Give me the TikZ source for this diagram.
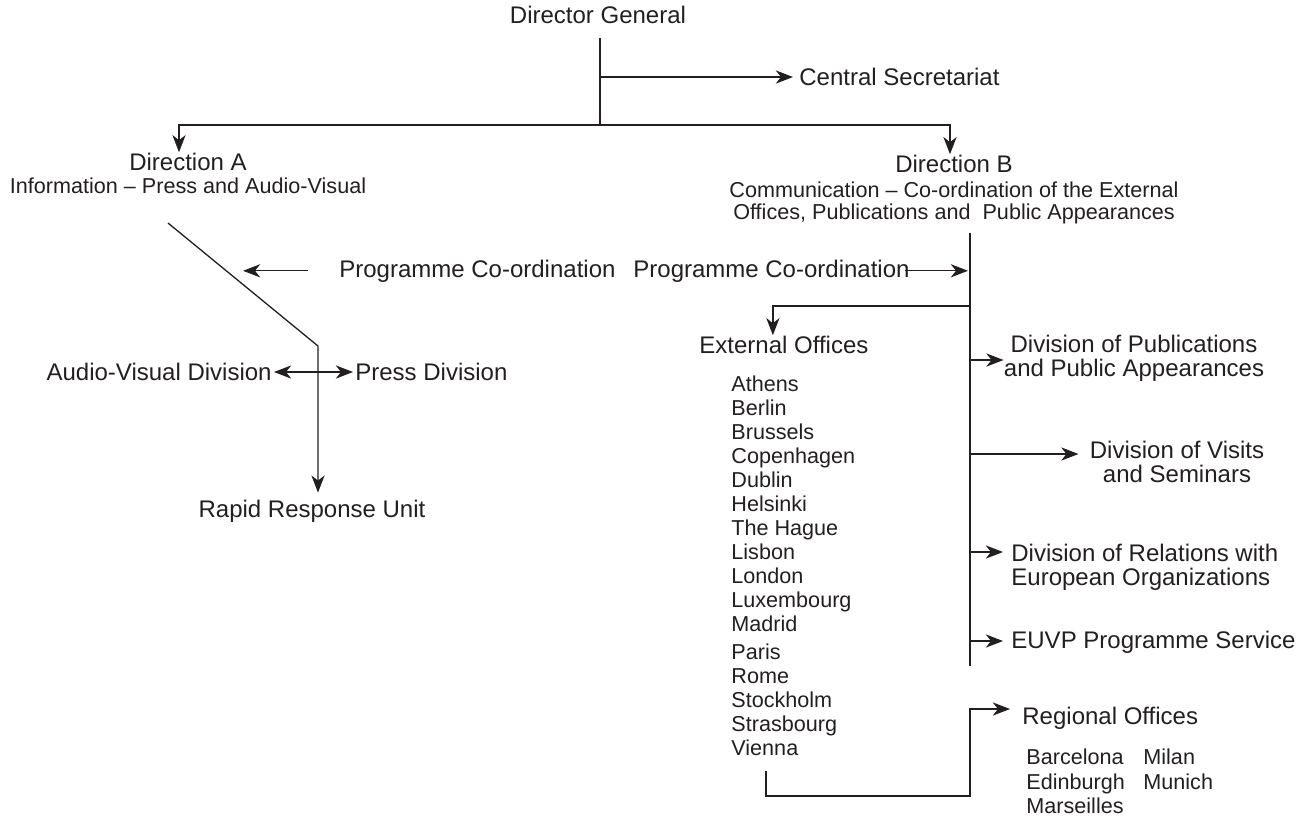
\documentclass[tikz,border=0pt]{standalone}
\usepackage{fontspec}
\setmainfont{Liberation Sans}
\usetikzlibrary{arrows.meta}
\definecolor{ink}{RGB}{35,31,32}

\begin{document}
\begin{tikzpicture}[x=0.5pt, y=-0.5pt,
    >={Stealth[length=8.6pt, width=6.6pt, inset=2.6pt]},
    link/.style ={draw=ink, line width=0.65pt},
    office/.style ={text=ink, inner sep=0pt, font=\fontsize{12}{12}\selectfont},
    sublist/.style ={text=ink, inner sep=0pt, font=\fontsize{10.8}{12}\selectfont}]
   \useasboundingbox (0,0) rectangle (1306,816);

   % top of the chart
   \node[office, anchor=base] (dg) at (598,23) {Director General};
   \coordinate (dgtop) at (600,38);
   \coordinate (dgfork) at (600,77);
   \coordinate (dgsplit) at (600,125);
   \node[office, anchor=west] (cs) at (799,77) {Central Secretariat};
   \node[office, anchor=base] (dira) at (188,170) {Direction A};
   \node[sublist, anchor=base] (dirasub) at (188,193) {Information -- Press and Audio-Visual};
   \node[office, anchor=base] (dirb) at (954,172) {Direction B};
   \node[sublist, anchor=north, align=center, font=\fontsize{10.8}{11}\selectfont] (dirbsub) at (954,181.5)
      {Communication -- Co-ordination of the External\\Offices, Publications and\ \ Public Appearances};
   \draw[link] (dgtop) -- (dgsplit);
   \draw[link, ->, shorten >=3pt] (dgfork) -- (cs);
   \draw[link, ->] (dgsplit) -| ([xshift=-4.5pt]dira.north);
   \draw[link, ->] (dgsplit) -| ([xshift=-2pt]dirb.north);

   % direction A
   \coordinate (diagtop) at (168,223);
   \coordinate (diagknee) at (318,346);
   \coordinate (progtip) at (243,271);
   \node[office, anchor=base west] (progcoa) at (339,277) {Programme Co-ordination};
   \node[office, anchor=east] (avd) at (272,372) {Audio-Visual Division};
   \node[office, anchor=west] (pd) at (355,372) {Press Division};
   \node[office, anchor=base] (rru) at (312,517) {Rapid Response Unit};
   \draw[link, ->, shorten >=3.3pt] (diagtop) -- (diagknee) -- (diagknee |- rru.north);
   \draw[link, ->] ([xshift=-15.5pt]progcoa.west) -- (progtip |- progcoa.west);
   \draw[link, <->, shorten <=1pt, shorten >=1pt] (avd) -- (pd);

   % direction B
   \coordinate (btop) at (970,233);
   \coordinate (bbot) at (970,666);
   \coordinate (extfork) at (970,306);
   \coordinate (pubfork) at (970,360);
   \coordinate (visfork) at (970,454);
   \coordinate (relfork) at (970,552);
   \coordinate (euvpfork) at (970,641);
   \draw[link] (btop) -- (bbot);
   \node[office, anchor=base west] (progcob) at (633,277) {Programme Co-ordination};
   \draw[link, ->, shorten >=1pt] ([xshift=-2.5pt]progcob.east) -- (progcob.east -| btop);
   \node[office, anchor=base west] (ext) at (699,353) {External Offices};
   \draw[link, ->] (extfork) -| ([xshift=-5.5pt]ext.north);
   \node[sublist, anchor=north west, align=left] (cities) at (731,375.6)
      {Athens\\Berlin\\Brussels\\Copenhagen\\Dublin\\Helsinki\\The Hague\\Lisbon\\London\\Luxembourg\\Madrid\\[2pt]Paris\\Rome\\Stockholm\\Strasbourg\\Vienna};
   \node[office, anchor=north, align=center] (pub) at (1134,334.7) {Division of Publications\\and Public Appearances};
   \node[office, anchor=north, align=center] (vis) at (1177,440.7) {Division of Visits\\and Seminars};
   \node[office, anchor=north west, align=left] (rel) at (1011,543.7) {Division of Relations with\\European Organizations};
   \node[office, anchor=base west] (euvp) at (1011,648) {EUVP Programme Service};
   \draw[link, ->] (pubfork) -- (pubfork -| pub.west);
   \draw[link, ->, shorten >=5.5pt] (visfork) -- (visfork -| vis.west);
   \draw[link, ->, shorten >=4pt] (relfork) -- (relfork -| rel.west);
   \draw[link, ->, shorten >=4pt] (euvpfork) -- (euvpfork -| euvp.west);

   % regional offices
   \coordinate (viennaend) at (766,771);
   \coordinate (regcorner) at (970,796);
   \coordinate (regfork) at (970,709);
   \node[office, anchor=base west] (reg) at (1022,724) {Regional Offices};
   \node[sublist, anchor=north west, align=left, font=\fontsize{10.8}{12.25}\selectfont] (reglista) at (1026,748.5)
      {Barcelona\\Edinburgh\\Marseilles};
   \node[sublist, anchor=north west, align=left, font=\fontsize{10.8}{12.25}\selectfont] (reglistb) at (1143,748.5)
      {Milan\\Munich};
   \draw[link, ->, shorten >=6pt] (viennaend) |- (regcorner) -- (regfork) -- (regfork -| reg.west);
 \end{tikzpicture}
\end{document}
